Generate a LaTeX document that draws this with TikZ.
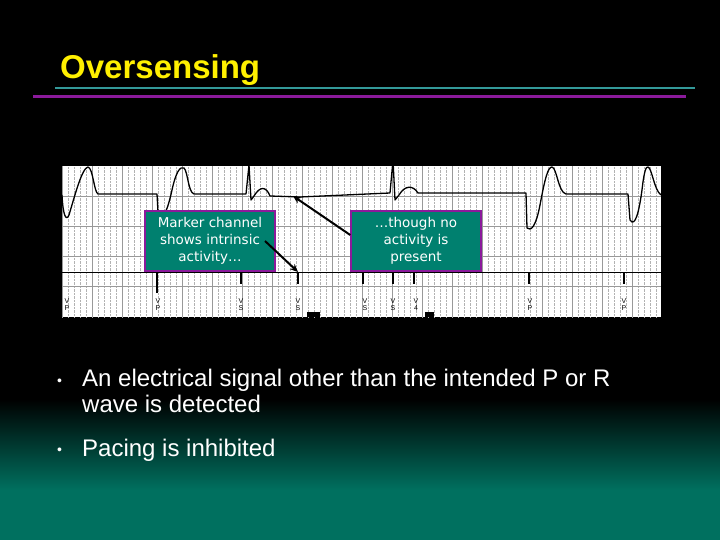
\documentclass[tikz,border=0pt]{standalone}
\usepackage{fontspec}
\setmainfont{Liberation Sans}
\newfontfamily\boxfont{DejaVu Sans}
\usetikzlibrary{arrows.meta}
\definecolor{tealbg}{HTML}{00705F}
\definecolor{boxteal}{HTML}{00806F}
\definecolor{purp}{HTML}{8B1A9B}
\definecolor{ttl}{HTML}{FFF000}
\tikzset{
  callout/.style={draw=purp,line width=1.5pt,fill=boxteal,text=white,font=\boxfont\fontsize{13.5}{17}\selectfont,align=center,minimum width=130pt,minimum height=60pt,inner sep=1pt},
  bullet/.style={text=white,font=\fontsize{24}{26}\selectfont,align=left,inner sep=0pt},
  marker/.style={line width=2pt},
  mlabel/.style={font=\fontsize{7}{7}\selectfont,inner sep=0pt,align=center},
  pointer/.style={-{Stealth[length=8pt,width=7pt]},line width=2pt}
}
\begin{document}
\begin{tikzpicture}[x=1pt,y=-1pt]
\useasboundingbox (0,0) rectangle (720,540);
\fill[black] (0,0) rectangle (720,400);
\shade[top color=black,bottom color=tealbg] (0,399) rectangle (720,490);
\fill[tealbg] (0,489.5) rectangle (720,540);
% title
\node[anchor=base west,text=ttl,font=\bfseries\fontsize{33}{36}\selectfont,inner sep=0pt] (title) at (60,79) {Oversensing};
\draw[teal!80!white,line width=2.5pt] (55,88) -- (695,88);
\draw[purp,line width=3pt] (33,97) -- (686,97);
% strip
\fill[white] (62,166) rectangle (661,317);
\draw[gray!60,densely dotted,line width=0.4pt,xstep=6,ystep=6,shift={(62,166)}] (0,0) grid (599,151);
\foreach \x in {62,92,...,661} \draw[gray!80,line width=0.5pt] (\x,166) -- (\x,317);
\foreach \y in {196,226,256,286} \draw[gray!80,line width=0.5pt] (62,\y) -- (661,\y);
% trace
\draw[black,line width=1.3pt,line join=round]
 (62,195) .. controls (63,215) and (66,222) .. (69,215) .. controls (75,195) and (82,168) .. (88,167)
 .. controls (93,168) and (94,192) .. (98,194) -- (157,194) -- (158,212) .. controls (163,224) and (168,208) .. (172,190)
 .. controls (176,172) and (180,166) .. (184,168) .. controls (188,172) and (188,192) .. (194,194) -- (246,194)
 -- (249,165) -- (251,200) -- (254,196) .. controls (260,186) and (266,186) .. (270,196) -- (300,197) -- (390,193)
 -- (393,160) -- (395,200) -- (399,195) .. controls (405,185) and (413,185) .. (418,193) -- (526,193) -- (527,228)
 .. controls (531,232) and (536,226) .. (540,205) .. controls (545,178) and (548,167) .. (552,167)
 .. controls (557,168) and (558,192) .. (566,194) -- (628,194) -- (630,220) .. controls (635,228) and (639,212) .. (642,190)
 .. controls (644,172) and (646,166) .. (648,167) .. controls (652,168) and (654,190) .. (661,195);
% marker channel
\draw[black,line width=0.8pt] (62,272) -- (661,272);
\foreach \x/\h in {157/293,241/284,298/284,363/284,393/284,414/284,529/284,624/284} \draw[marker] (\x,272) -- (\x,\h);
\foreach \x/\t in {67/{V\\P},158/{V\\P},241/{V\\S},298/{V\\S},365/{V\\S},393/{V\\S},416/{V\\4},530/{V\\P},624/{V\\P}}
  \node[mlabel] (m\x) at (\x,305) {\t};
\fill[black] (307,312) rectangle (320,317);
\fill[black] (425,312) rectangle (434,317);
% callouts
\node[callout] (c1) at (210,241) {Marker channel\\shows intrinsic\\activity\ldots};
\node[callout] (c2) at (416,241) {\ldots though no\\activity is\\present};
\coordinate (t1) at (298,272);
\coordinate (t2) at (293,196);
\draw[pointer] (265,241) -- (t1);
\draw[pointer] (c2.west) ++(0,-6) -- (t2);
% bullets
\node[bullet,anchor=north west] (b1) at (82,369) {An electrical signal other than the intended P or R\\wave is detected};
\node[bullet,anchor=base west] (d1) at (57,385) {\fontsize{14}{14}\selectfont•};
\node[bullet,anchor=base west] (b2) at (82,456) {Pacing is inhibited};
\node[bullet,anchor=base west] (d2) at (57,454) {\fontsize{14}{14}\selectfont•};
\end{tikzpicture}
\end{document}
